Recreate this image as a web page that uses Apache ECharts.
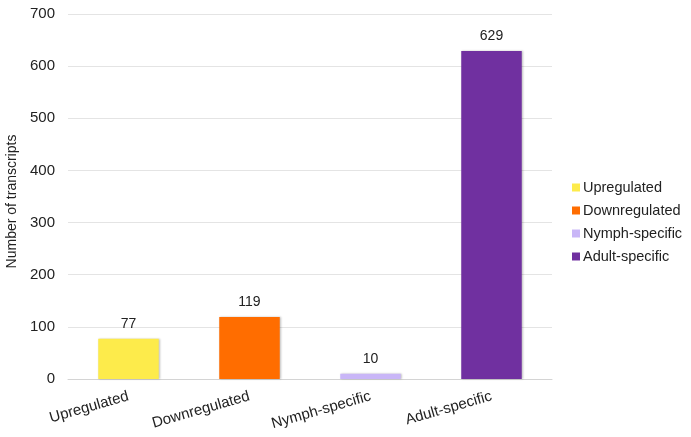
<!DOCTYPE html>
<html>
<head>
<meta charset="utf-8">
<script src="https://cdn.jsdelivr.net/npm/echarts@6/dist/echarts.min.js"></script>
<style>
  html, body { margin: 0; padding: 0; background: #fff; }
  #chart { width: 691px; height: 437px; }
</style>
</head>
<body>
<div id="chart"></div>
<script>
const categories = ['Upregulated', 'Downregulated', 'Nymph-specific', 'Adult-specific']
const counts = [77, 119, 10, 629]
const colors = ['#FDEB4B', '#FF6D00', '#C9B6F7', '#7030A0']
const yTicks = { min: 0, max: 700, interval: 100 }

const chart = echarts.init(document.getElementById('chart'))

// one series per category so each gets its own legend entry
const series = categories.map((name, i) => ({
  name: name,
  type: 'bar',
  stack: 'all',
  barWidth: '50%',
  data: counts.map((v, j) => (j === i ? v : '-')),
  itemStyle: {
    color: colors[i],
    shadowColor: 'rgba(0,0,0,0.25)',
    shadowBlur: 2,
    shadowOffsetX: 1,
    shadowOffsetY: 0
  },
  label: {
    show: true,
    position: 'top',
    distance: 8,
    color: '#222',
    fontSize: 14
  }
}))

chart.setOption({
  animation: false,
  textStyle: { fontFamily: 'Liberation Sans' },
  grid: { left: 68, right: 139, top: 14, bottom: 58, outerBoundsMode: 'none' },
  legend: {
    orient: 'vertical',
    left: 567,
    top: 175,
    itemWidth: 8,
    itemHeight: 8,
    itemGap: 8,
    icon: 'rect',
    textStyle: { fontSize: 14.5, color: '#222', padding: [0, 0, 0, -2] },
    data: categories
  },
  xAxis: {
    type: 'category',
    data: categories,
    axisTick: { show: false },
    axisLine: { lineStyle: { color: '#d4d4d4' } },
    axisLabel: {
      rotate: 16,
      fontSize: 15,
      color: '#222',
      margin: 17
    }
  },
  yAxis: {
    type: 'value',
    min: yTicks.min,
    max: yTicks.max,
    interval: yTicks.interval,
    name: 'Number of transcripts',
    nameLocation: 'middle',
    nameGap: 47,
    nameTextStyle: { fontSize: 14, color: '#222', padding: [0, 10, 0, 0] },
    axisLine: { show: false },
    axisTick: { show: false },
    axisLabel: { fontSize: 15, color: '#222', margin: 13 },
    splitLine: { lineStyle: { color: '#e4e4e4' } }
  },
  series: series
})
</script>
</body>
</html>
